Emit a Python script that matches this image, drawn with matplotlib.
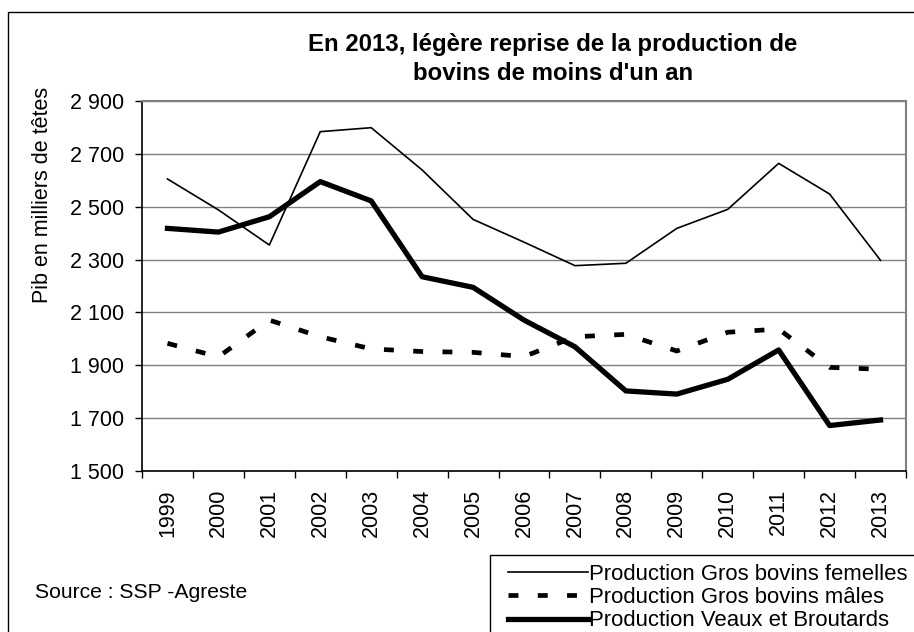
import matplotlib
matplotlib.use("Agg")
import matplotlib.pyplot as plt
from matplotlib.patches import Rectangle

plt.rcParams['font.family'] = ['Liberation Sans', 'DejaVu Sans']

years = ['1999', '2000', '2001', '2002', '2003', '2004', '2005', '2006',
         '2007', '2008', '2009', '2010', '2011', '2012', '2013']
femelles = [2605, 2488, 2355, 2784, 2799, 2639, 2452, 2366, 2277, 2286,
            2418, 2490, 2664, 2548, 2297]
males = [1983, 1932, 2071, 2008, 1962, 1952, 1949, 1933, 2008, 2017,
         1954, 2025, 2037, 1892, 1885]
veaux = [2418, 2404, 2462, 2595, 2522, 2235, 2195, 2071, 1970, 1803,
         1791, 1847, 1958, 1672, 1693]
labels = ['Production Gros bovins femelles', 'Production Gros bovins mâles',
          'Production Veaux et Broutards']
yticks = [1500, 1700, 1900, 2100, 2300, 2500, 2700, 2900]
ytick_labels = ['1 500', '1 700', '1 900', '2 100', '2 300', '2 500', '2 700', '2 900']

W, H = 914, 632
fig = plt.figure(figsize=(W / 100, H / 100), dpi=100)

# outer border
fig.patches.append(Rectangle((8 / W, -0.05), 1.1, 1 - 12 / H + 0.05,
                             transform=fig.transFigure, fill=False,
                             edgecolor='black', linewidth=1.0))
# legend border
fig.patches.append(Rectangle((490 / W, -0.05), 1.0, 0.05 + 1 - 555 / H,
                             transform=fig.transFigure, fill=False,
                             edgecolor='black', linewidth=1.0))

ax = fig.add_axes([142 / W, 1 - 471 / H, (906 - 142) / W, (471 - 101) / H])
x = list(range(len(years)))

ax.plot(x, femelles, color='black', linewidth=1.2, label=labels[0])
l2, = ax.plot(x, males, color='black', linewidth=3.4, label=labels[1],
              solid_capstyle='butt', dash_capstyle='butt')
l2.set_dashes((2.1, 4.1))
ax.plot(x, veaux, color='black', linewidth=3.8, label=labels[2],
        solid_joinstyle='round')

ax.set_xlim(-0.5, len(years) - 0.5)
ax.set_ylim(1500, 2900)
ax.set_yticks(yticks)
ax.set_yticklabels(ytick_labels, fontsize=15.5)
ax.set_xticks([i - 0.5 for i in range(len(years) + 1)], minor=False)
ax.set_xticklabels([])
ax.set_xticks(x, minor=True)
ax.set_xticklabels(years, minor=True, rotation=90, fontsize=15.5)
ax.tick_params(axis='x', which='major', length=5, width=1, direction='out', color='black')
ax.tick_params(axis='x', which='minor', length=0, pad=13)
ax.tick_params(axis='y', length=5, width=1, direction='out', pad=8)

ax.grid(axis='y', color='#808080', linewidth=1.0)
ax.set_axisbelow(True)
for s in ['top', 'right']:
    ax.spines[s].set_color('#808080')
    ax.spines[s].set_linewidth(1.5)
ax.spines['left'].set_color('black')
ax.spines['bottom'].set_color('black')
ax.spines['left'].set_linewidth(1.2)
ax.spines['bottom'].set_linewidth(1.2)

fig.text(553 / W, 1 - 44 / H, "En 2013, légère reprise de la production de",
         ha='center', va='center', fontsize=17.3, fontweight='bold')
fig.text(553 / W, 1 - 73 / H, "bovins de moins d'un an",
         ha='center', va='center', fontsize=17.3, fontweight='bold')
fig.text(43 / W, 1 - 195 / H, "Pib en milliers de têtes", rotation=90,
         ha='center', va='center', fontsize=15.5)
fig.text(35 / W, 1 - 593 / H, "Source : SSP -Agreste", ha='left', va='center',
         fontsize=15.2)

handles, lbls = ax.get_legend_handles_labels()
leg = fig.legend(handles, lbls, loc='upper left',
                 bbox_to_anchor=(508 / W, 1 - 564 / H),
                 fontsize=15.9, frameon=False,
                 handlelength=3.6, handletextpad=0.08, labelspacing=0.1,
                 borderpad=0, borderaxespad=0)

fig.savefig('out.png', dpi=100)
